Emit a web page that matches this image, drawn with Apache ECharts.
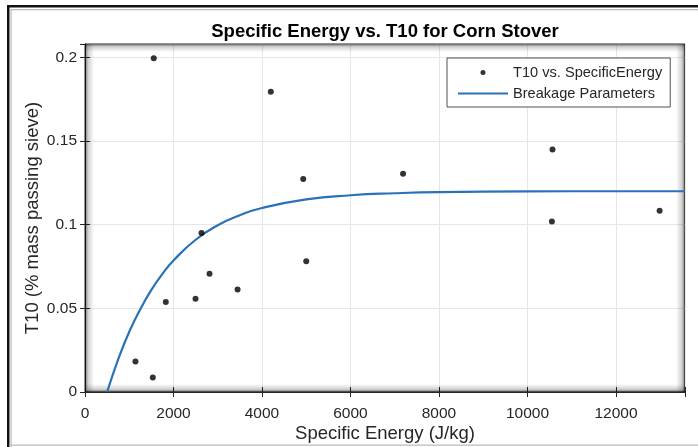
<!DOCTYPE html>
<html><head><meta charset="utf-8">
<script src="https://cdn.jsdelivr.net/npm/echarts@6/dist/echarts.min.js"></script>
<style>html,body{margin:0;padding:0;background:#fff}#c{width:698px;height:447px}</style>
</head><body><div id="c"></div>
<script>
// Measured data (T10 vs. Specific Energy)
const energy = [1554, 4200, 4932, 2633, 2814, 3448, 5000, 2498, 1826, 1140, 1532, 7188, 10566, 10552, 12986];
const t10 = [0.1995, 0.1795, 0.1273, 0.0951, 0.0707, 0.0612, 0.0782, 0.0558, 0.0538, 0.0182, 0.0086, 0.1305, 0.1449, 0.1019, 0.1083];
// Fitted breakage curve
const fitEnergy = [500, 750, 1000, 1250, 1500, 1750, 2000, 2500, 3000, 3500, 4000, 5000, 6000, 7000, 8000, 10000, 12000, 13560];
const fitT10 = [0, 0.0195, 0.036, 0.0495, 0.061, 0.0706, 0.0786, 0.091, 0.0997, 0.1057, 0.110, 0.1151, 0.1176, 0.1188, 0.1195, 0.1199, 0.12, 0.12];
const xTickLabels = ['0', '2000', '4000', '6000', '8000', '10000', '12000'];
const yTickLabels = ['0', '0.05', '0.1', '0.15', '0.2'];

const FONT = '"Liberation Sans", Arial, Helvetica, sans-serif';
const G = {left: 85, top: 44, right: 13, bottom: 55};
const W = 698, H = 447;
const gw = W - G.left - G.right, gh = H - G.top - G.bottom;

const chart = echarts.init(document.getElementById('c'), null, {renderer: 'canvas'});
const shade = (x, y, w, h, dir) => {
  const g = {x: 0, y: 0, x2: 0, y2: 0};
  if (dir === 'l') g.x2 = 1; if (dir === 'r') g.x = 1;
  if (dir === 't') g.y2 = 1; if (dir === 'b') g.y = 1;
  return {type: 'rect', silent: true, z: 1, shape: {x, y, width: w, height: h},
    style: {fill: new echarts.graphic.LinearGradient(g.x, g.y, g.x2, g.y2, [
      {offset: 0, color: 'rgba(0,0,0,0.55)'}, {offset: 0.35, color: 'rgba(0,0,0,0.18)'}, {offset: 1, color: 'rgba(0,0,0,0)'}])}};
};
const axisCommon = {
  axisLine: {show: true, lineStyle: {color: '#262626', width: 1}},
  axisTick: {show: true, inside: true, length: 5, lineStyle: {color: '#262626'}},
};
chart.setOption({
  animation: false,
  backgroundColor: '#fff',
  textStyle: {fontFamily: FONT},
  title: {
    text: 'Specific Energy vs. T10 for Corn Stover',
    left: 380, top: 17, textAlign: 'center',
    textStyle: {fontFamily: FONT, fontWeight: 'bold', fontSize: 18.5, color: '#000'}
  },
  grid: {left: G.left, top: G.top, right: G.right, bottom: G.bottom, show: true,
    containLabel: false, outerBoundsMode: 'none',
    borderColor: '#262626', borderWidth: 1, backgroundColor: '#fff'},
  legend: {
    orient: 'vertical', left: 447, top: 58,
    padding: [7, 8, 6, 10], itemGap: 6, itemWidth: 50, itemHeight: 5,
    borderColor: '#262626', borderWidth: 0.8, backgroundColor: '#fff',
    textStyle: {fontFamily: FONT, fontSize: 14.6, color: '#262626'},
    data: [{name: 'T10 vs. SpecificEnergy', icon: 'circle'},
           {name: 'Breakage Parameters', itemStyle: {opacity: 0}}]
  },
  xAxis: [{
    type: 'value', min: 0, max: 13560, interval: 2000, position: 'bottom',
    name: 'Specific Energy (J/kg)', nameLocation: 'middle', nameGap: 32, nameMoveOverlap: false,
    nameTextStyle: {fontFamily: FONT, fontSize: 18.5, color: '#262626'},
    axisLabel: {fontFamily: FONT, fontSize: 15.5, color: '#262626', margin: 14,
      formatter: (v) => xTickLabels[Math.round(v / 2000)] ?? ''},
    splitLine: {show: true, lineStyle: {color: '#e6e6e6', width: 1}},
    ...axisCommon
  }, {
    type: 'value', min: 0, max: 13560, interval: 2000, position: 'top',
    axisLabel: {show: false}, splitLine: {show: false}, ...axisCommon
  }],
  yAxis: [{
    type: 'value', min: 0, max: 0.208, interval: 0.05, position: 'left',
    name: 'T10 (% mass passing sieve)', nameLocation: 'middle', nameGap: 43, nameMoveOverlap: false,
    nameTextStyle: {fontFamily: FONT, fontSize: 18.5, color: '#262626'},
    axisLabel: {fontFamily: FONT, fontSize: 15.5, color: '#262626', margin: 8,
      formatter: (v) => yTickLabels[Math.round(v / 0.05)] ?? ''},
    splitLine: {show: true, lineStyle: {color: '#e6e6e6', width: 1}},
    ...axisCommon
  }, {
    type: 'value', min: 0, max: 0.208, interval: 0.05, position: 'right',
    axisLabel: {show: false}, splitLine: {show: false}, ...axisCommon
  }],
  series: [{
    name: 'T10 vs. SpecificEnergy', type: 'scatter', z: 3,
    symbol: 'circle', symbolSize: 6,
    itemStyle: {color: '#000'},
    data: energy.map((e, i) => [e, t10[i]])
  }, {
    name: 'Breakage Parameters', type: 'line', z: 3,
    smooth: true, showSymbol: false, symbol: 'none',
    lineStyle: {color: '#2a72b8', width: 2.2},
    itemStyle: {color: '#2a72b8'},
    data: fitEnergy.map((e, i) => [e, fitT10[i]])
  }],
  graphic: [
    shade(G.left, G.top, 9, gh, 'l'),
    shade(G.left + gw - 9, G.top, 9, gh, 'r'),
    shade(G.left, G.top, gw, 8, 't'),
    shade(G.left, G.top + gh - 8, gw, 8, 'b'),
    {type: 'rect', silent: true, shape: {x: 7, y: 5, width: W, height: 2.5}, style: {fill: '#111'}},
    {type: 'rect', silent: true, shape: {x: 7, y: 5, width: 2.5, height: H}, style: {fill: '#111'}},
    {type: 'rect', silent: true, shape: {x: 10.5, y: 9, width: 1.2, height: H}, style: {fill: '#bbb'}},
    {type: 'rect', silent: true, shape: {x: 10.5, y: 9, width: W, height: 1.2}, style: {fill: '#bbb'}},
    {type: 'rect', silent: true, shape: {x: 9, y: 444.5, width: W, height: 1.2}, style: {fill: '#bbb'}}
  ]
});
</script></body></html>
